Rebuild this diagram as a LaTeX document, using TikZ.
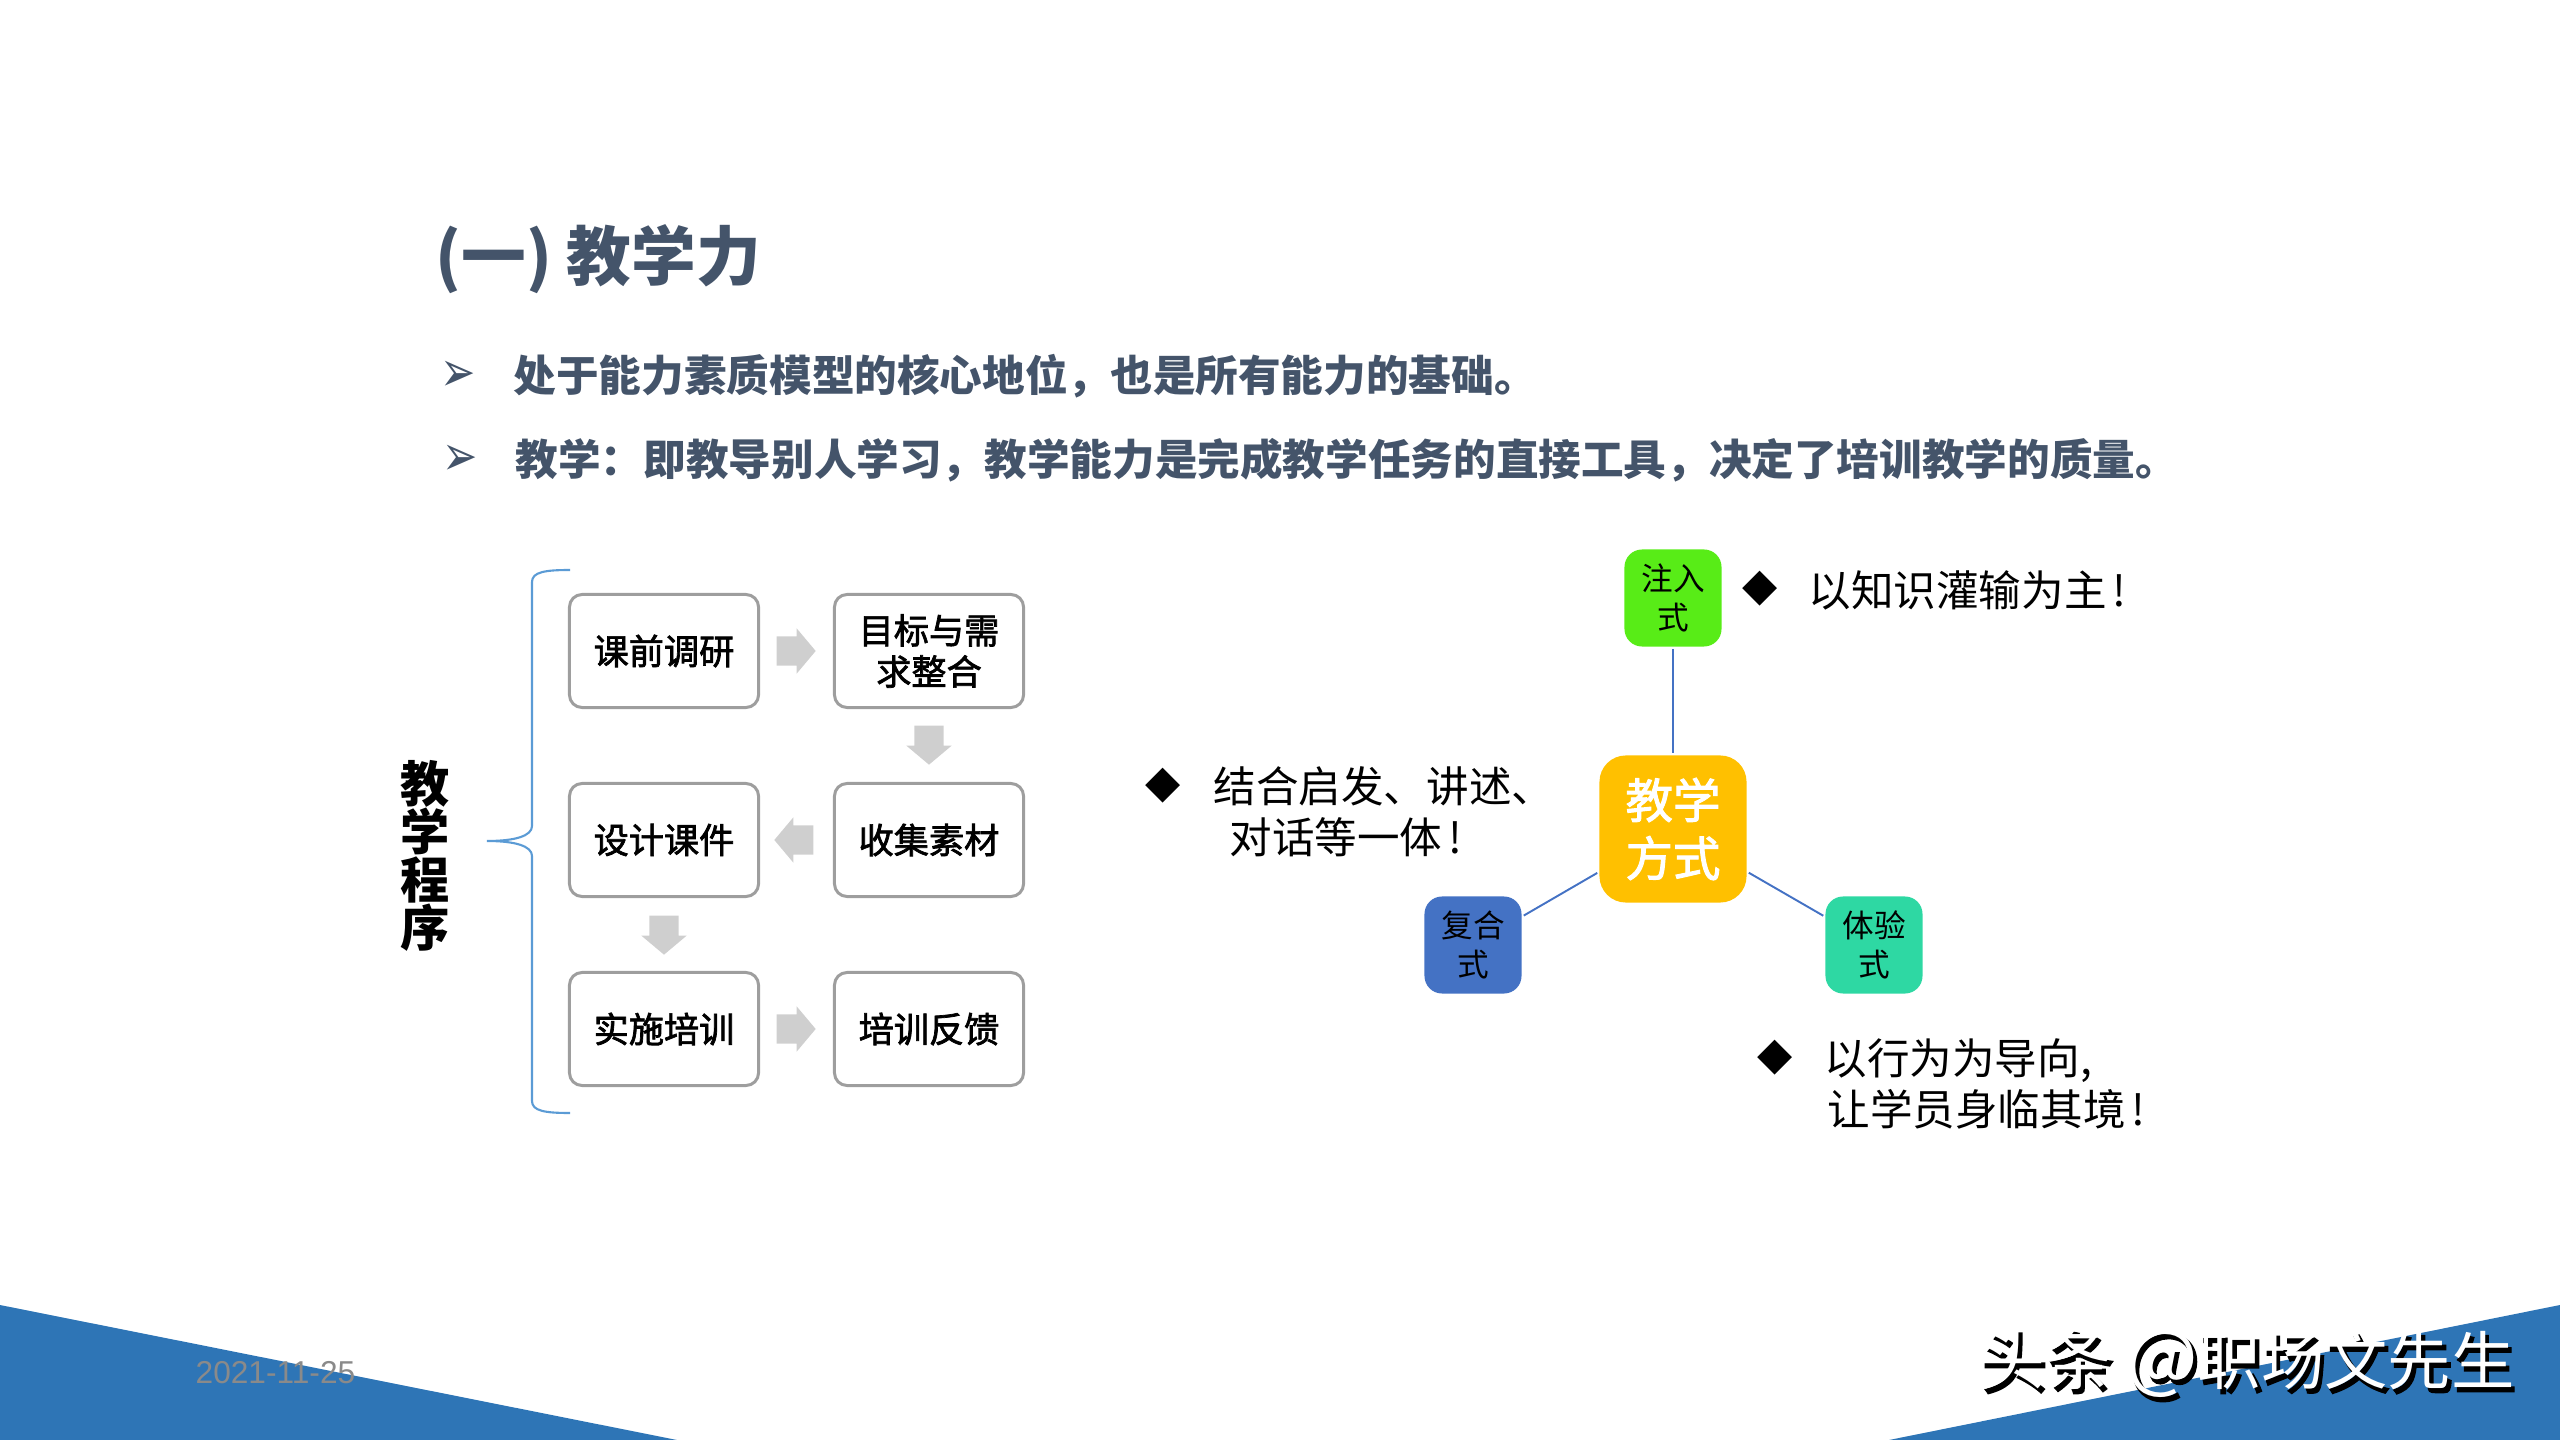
\documentclass[tikz,border=0pt]{standalone}
\usepackage{fontspec}
\setmainfont{Noto Sans CJK SC}
\newfontfamily\midfont[FakeBold=2]{Noto Sans CJK SC}
\newfontfamily\symfont{DejaVu Sans}
\newfontfamily\datefont{Liberation Sans}
\usepackage{tikz}
\usetikzlibrary{shapes.arrows}
\definecolor{slate}{HTML}{44546A}
\definecolor{bandblue}{HTML}{2E75B6}
\definecolor{linkblue}{HTML}{4472C4}
\definecolor{braceblue}{HTML}{5B9BD5}
\definecolor{modeamber}{HTML}{FFC000}
\definecolor{modegreen}{HTML}{58EC17}
\definecolor{modeteal}{HTML}{2ED8A3}
\tikzset{
	stepbox/.style={draw=black!38, line width=0.85pt, rounded corners=3.6pt, fill=white, minimum width=1.89cm, minimum height=1.13cm, inner sep=0pt, align=center, font=\midfont\fontsize{10}{11.7}\selectfont},
	flowarrow/.style={single arrow, fill=black!19, draw=none, inner sep=0pt, text width=0pt, text height=0.28cm, text depth=0pt, minimum height=0.39cm, single arrow head extend=0.08cm, single arrow tip angle=100},
	modebox/.style={rounded corners=5pt, minimum width=0.97cm, minimum height=0.97cm, inner sep=0pt, align=center, font=\fontsize{9}{11}\selectfont},
	headtext/.style={anchor=west, inner sep=0pt, text=slate, font=\fontsize{12.12}{14}\selectfont\bfseries},
	notetext/.style={anchor=west, inner sep=0pt, align=left, font=\fontsize{12.1}{14.5}\selectfont},
	arrowmark/.style={inner sep=0pt, yscale=1.35, transform shape, text=slate, font=\symfont\fontsize{12}{14}\selectfont},
	notemark/.style={inner sep=0pt, font=\symfont\fontsize{13}{14}\selectfont},
	modelink/.style={draw=linkblue, line width=0.55pt, shorten >=0.5pt, shorten <=0.5pt}
}

\begin{document}
\begin{tikzpicture}[x=0.01cm, y=-0.01cm]
	%%%%% START %%%%%
	\useasboundingbox (0, 0) rectangle (2560, 1440);

	% bottom bands
	\fill[bandblue] (0, 1305) -- (677, 1440) -- (0, 1440) -- cycle;
	\fill[bandblue] (2560, 1305) -- (2560, 1440) -- (1889, 1440) -- cycle;
	\node[anchor=west, inner sep=0pt, text=black!46, font=\datefont\fontsize{9}{11}\selectfont] (date) at (195, 1373) {2021-11-25};
	\node[anchor=east, inner sep=0pt, text=black, font=\midfont\fontsize{18}{20}\selectfont] (marksh) at (2518, 1367) {{\fontsize{19}{20}\selectfont 头条} {\fontsize{21.5}{20}\selectfont @}职场文先生};
	\node[anchor=east, inner sep=0pt, text=white, font=\fontsize{18}{20}\selectfont] (mark) at (2515, 1363) {{\fontsize{19}{20}\selectfont 头条} {\fontsize{21.5}{20}\selectfont @}职场文先生};

	% heading
	\node[anchor=west, inner sep=0pt, text=slate, font=\fontsize{18.4}{20}\selectfont\bfseries] (title) at (435, 259) {(一) 教学力};
	\node[arrowmark] (arrowa) at (458, 376) {➢};
	\node[headtext] (heada) at (513, 376) {处于能力素质模型的核心地位，也是所有能力的基础。};
	\node[arrowmark] (arrowb) at (460, 460) {➢};
	\node[headtext] (headb) at (515, 460) {教学：即教导别人学习，教学能力是完成教学任务的直接工具，决定了培训教学的质量。};

	% left side
	\node[inner sep=0pt, align=center, font=\fontsize{14}{13.7}\selectfont\bfseries] (steps) at (425, 856) {教\\学\\程\\序};
	\draw[braceblue, line width=0.6pt] (570, 570) .. controls (545, 570) and (532, 572) .. (532, 582) -- (532, 826) .. controls (532, 836) and (515, 841) .. (487, 841) .. controls (515, 841) and (532, 846) .. (532, 856) -- (532, 1101) .. controls (532, 1111) and (545, 1113) .. (570, 1113);

	\node[stepbox] (survey) at (664, 651) {课前调研};
	\node[stepbox] (goal) at (929, 651) {目标与需\\求整合};
	\node[stepbox] (design) at (664, 840) {设计课件};
	\node[stepbox] (collect) at (929, 840) {收集素材};
	\node[stepbox] (train) at (664, 1029) {实施培训};
	\node[stepbox] (feedback) at (929, 1029) {培训反馈};

	\node[flowarrow] (flowa) at (790, 651) {};
	\node[flowarrow, rotate=-90] (flowb) at (929, 739) {};
	\node[flowarrow, rotate=180] (flowc) at (800, 840) {};
	\node[flowarrow, rotate=-90] (flowd) at (664, 929) {};
	\node[flowarrow] (flowe) at (790, 1029) {};

	% right side
	\node[modebox, fill=modeamber, text=white, minimum width=1.47cm, minimum height=1.47cm, rounded corners=7.5pt, font=\midfont\fontsize{13.5}{16.5}\selectfont] (mode) at (1673, 829) {教学\\方式};
	\node[modebox, fill=modegreen] (inject) at (1673, 598) {注入\\式};
	\node[modebox, fill=linkblue] (mixed) at (1473, 945) {复合\\式};
	\node[modebox, fill=modeteal] (live) at (1874, 945) {体验\\式};

	\draw[modelink] (mode) -- (inject);
	\draw[modelink] (mode) -- (mixed);
	\draw[modelink] (mode) -- (live);

	\node[notemark] (markb) at (1760, 589) {◆};
	\node[notetext] (noteb) at (1808, 590) {以知识灌输为主\hspace{0.06cm}!};
	\node[notemark] (marka) at (1163, 786) {◆};
	\node[notetext] (notea) at (1213, 812) {结合启发、讲述、\\\hspace*{0.16cm}对话等一体\hspace{0.06cm}!};
	\node[notemark] (markc) at (1775, 1058) {◆};
	\node[notetext] (notec) at (1824, 1084) {以行为为导向,\\\hspace*{0.03cm}让学员身临其境\hspace{0.06cm}!};
	%%%%% END %%%%%
\end{tikzpicture}
\end{document}
